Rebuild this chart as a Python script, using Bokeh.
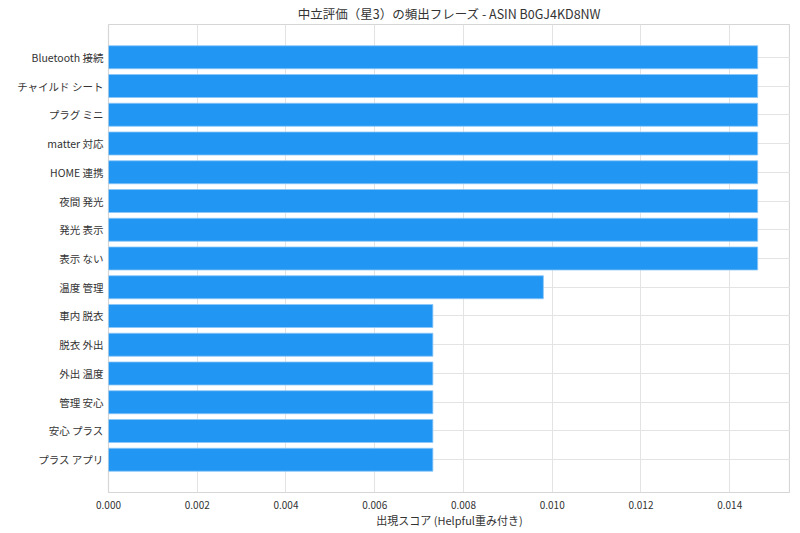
from bokeh.plotting import figure
from bokeh.models import FactorRange, Range1d, NumeralTickFormatter, FixedTicker
from bokeh.embed import file_html
from bokeh.resources import INLINE

phrases = ["Bluetooth 接続", "チャイルド シート", "プラグ ミニ", "matter 対応", "HOME 連携",
           "夜間 発光", "発光 表示", "表示 ない", "温度 管理", "車内 脱衣",
           "脱衣 外出", "外出 温度", "管理 安心", "安心 プラス", "プラス アプリ"]
scores = [0.01463, 0.01463, 0.01463, 0.01463, 0.01463,
          0.01463, 0.01463, 0.01463, 0.0098, 0.00731,
          0.00731, 0.00731, 0.00731, 0.00731, 0.00731]
x_ticks = [0.000, 0.002, 0.004, 0.006, 0.008, 0.010, 0.012, 0.014]

FONT = "Noto Sans CJK JP"

p = figure(frame_width=682, frame_height=468, output_backend="svg", toolbar_location=None,
           y_range=FactorRange(factors=phrases[::-1], range_padding=0.0853),
           x_range=Range1d(0, 0.01537),
           title="中立評価（星3）の頻出フレーズ - ASIN B0GJ4KD8NW",
           min_border_left=108, min_border_right=0, min_border_top=17, min_border_bottom=20)

p.hbar(y=phrases, right=scores, left=0, height=0.8,
       fill_color="#2196F3", line_color="#8cc6f7", line_width=0.8)

p.title.align = "center"
p.title.text_font = FONT
p.title.text_font_size = "12.5px"
p.title.text_font_style = "normal"
p.title.text_color = "#333333"
p.title.offset = 0
p.title.standoff = 3

p.xaxis.ticker = FixedTicker(ticks=x_ticks)
p.xaxis.formatter = NumeralTickFormatter(format="0.000")
p.xaxis.axis_label = "出現スコア (Helpful重み付き)"
for ax in (p.xaxis, p.yaxis):
    ax.axis_label_text_font = FONT
    ax.axis_label_text_font_style = "normal"
    ax.axis_label_text_font_size = "11px"
    ax.axis_label_text_color = "#333333"
    ax.major_label_text_font = FONT
    ax.major_label_text_font_size = "10.5px"
    ax.major_label_text_color = "#333333"
    ax.major_tick_line_color = None
    ax.minor_tick_line_color = None
    ax.axis_line_color = None
    ax.major_tick_out = 0
    ax.major_tick_in = 0
p.xaxis.major_label_text_font_size = "10px"
p.xaxis.major_label_standoff = 8
p.xaxis.axis_label_standoff = 0
p.yaxis.major_label_standoff = 5

p.outline_line_color = "#d6d6d6"
p.outline_line_width = 1.2
p.xgrid.grid_line_color = "#e3e3e3"
p.ygrid.grid_line_color = "#e3e3e3"
p.xgrid.grid_line_width = 1
p.ygrid.grid_line_width = 1

open("out.html", "w").write(file_html(p, INLINE))
